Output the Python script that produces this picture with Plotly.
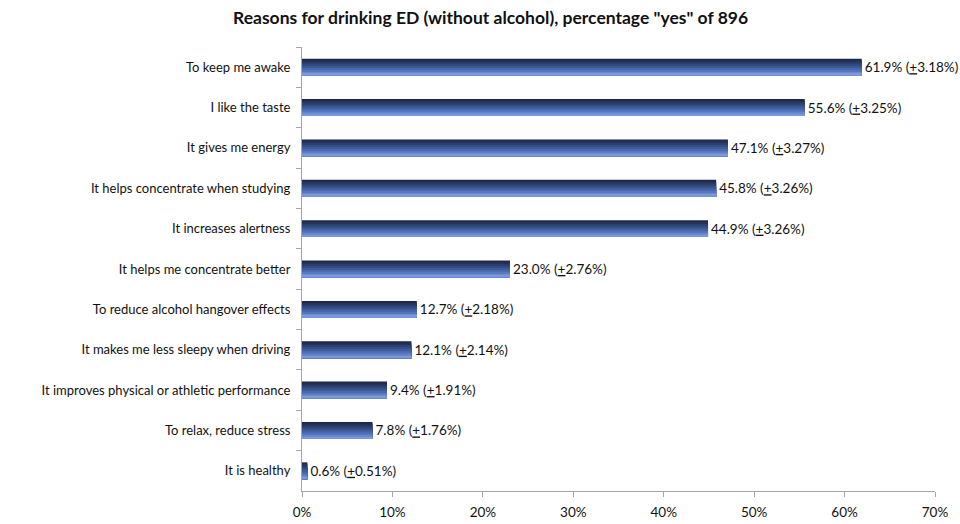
import plotly.graph_objects as go

categories = [
    "To keep me awake",
    "I like the taste",
    "It gives me energy",
    "It helps concentrate when studying",
    "It increases alertness",
    "It helps me concentrate better",
    "To reduce alcohol hangover effects",
    "It makes me less sleepy when driving",
    "It improves physical or athletic performance",
    "To relax, reduce stress",
    "It is healthy",
]
values = [61.9, 55.6, 47.1, 45.8, 44.9, 23.0, 12.7, 12.1, 9.4, 7.8, 0.6]
margins = [3.18, 3.25, 3.27, 3.26, 3.26, 2.76, 2.18, 2.14, 1.91, 1.76, 0.51]
tick_vals = [0, 10, 20, 30, 40, 50, 60, 70]
tick_text = ["0%", "10%", "20%", "30%", "40%", "50%", "60%", "70%"]

FONT = "Lato"
bar_w = 0.42
shades = ["#1e2a4c", "#25335b", "#2d406f", "#354d84", "#3e5b99", "#4868ad", "#5677c0", "#6a8ad0", "#7c98d8"]

fig = go.Figure()
n = len(shades)
sw = bar_w / n
for i, c in enumerate(shades):
    fig.add_trace(go.Bar(
        x=values, y=categories, orientation="h",
        width=bar_w - i * sw, offset=-bar_w / 2 + i * sw,
        marker=dict(color=c, line=dict(width=0)),
        hoverinfo="skip", showlegend=False,
    ))

labels = [f"{v:.1f}% (<u>+</u>{m:.2f}%)" for v, m in zip(values, margins)]
fig.add_trace(go.Bar(
    x=values, y=categories, orientation="h",
    width=bar_w, offset=-bar_w / 2,
    marker=dict(color="rgba(0,0,0,0)", line=dict(width=0)),
    text=labels, textposition="outside", cliponaxis=False,
    textfont=dict(family=FONT, size=13.5, color="#111"),
    showlegend=False,
))

fig.update_layout(
    barmode="overlay",
    width=960, height=524,
    margin=dict(l=302, r=25, t=47, b=33),
    paper_bgcolor="white", plot_bgcolor="white",
    font=dict(family=FONT, size=13, color="#111"),
    title=dict(text='<b>Reasons for drinking ED (without alcohol), percentage "yes" of 896</b>',
               x=0.511, xanchor="center", y=0.965, yanchor="middle",
               font=dict(family=FONT, size=17.5, color="#111")),
    xaxis=dict(range=[0, 70], tickvals=tick_vals, ticktext=tick_text,
               showgrid=False, zeroline=False, showline=True, linecolor="#a6a6a6",
               ticks="outside", ticklen=5, tickcolor="#a6a6a6",
               ticklabelstandoff=4, automargin=False,
               tickfont=dict(family=FONT, size=13.5)),
    yaxis=dict(autorange="reversed", showgrid=False, zeroline=False,
               showline=True, linecolor="#a6a6a6", automargin=False,
               ticks="outside", ticklen=5, tickcolor="#a6a6a6", tickson="boundaries",
               ticklabelstandoff=8,
               tickfont=dict(family=FONT, size=13)),
)

fig.write_html("out.html")
